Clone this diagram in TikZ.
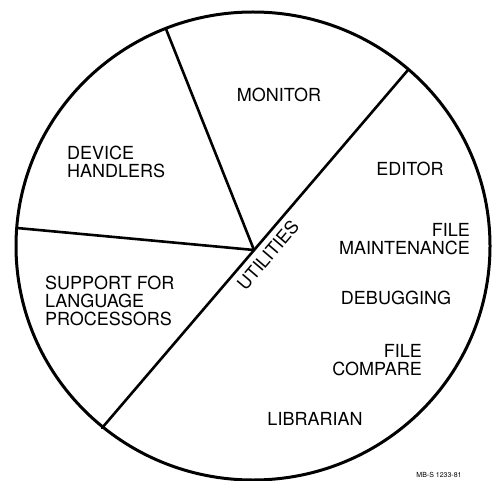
\documentclass[tikz,border=0pt]{standalone}
\usepackage{fontspec}
\setmainfont{TeX Gyre Heros}
\usetikzlibrary{positioning}

\begin{document}
\begin{tikzpicture}[
   x=1pt, y=-1pt,
   rim/.style={line width=3pt},
   split/.style={line width=2.6pt, line cap=round},
   lab/.style={font=\fontsize{18}{18}\selectfont, inner sep=0pt},
   tag/.style={font=\fontsize{7}{7}\selectfont, inner sep=0pt}
]
\useasboundingbox (0,0) rectangle (495,481);
\draw[rim] (253,246) ellipse [x radius=237, y radius=234];

\coordinate (hub) at (254,250);
\coordinate (rimtop) at (166,29);
\coordinate (rimleft) at (17,228);
\coordinate (rimne) at (408,70);
\coordinate (rimsw) at (102,428);

\draw[split] (hub) -- (rimtop);
\draw[split] (hub) -- (rimleft);
\draw[split] (rimsw) -- (rimne);

\node[lab] (monitor) at (279,95) {MONITOR};
\node[lab, anchor=west, align=left] (device) at (67,162) {DEVICE\\HANDLERS};
\node[lab, anchor=west, align=left] (support) at (45,301)
   {SUPPORT FOR\\LANGUAGE\\PROCESSORS};
\node[lab, rotate=49.5] (utilities) at (268,255) {UTILITIES};
\node[lab] (editor) at (410,169) {EDITOR};
\node[lab, anchor=east, align=right] (filemaint) at (470,239)
   {FILE\\MAINTENANCE};
\node[lab] (debug) at (396,298) {DEBUGGING};
\node[lab, anchor=east, align=right] (filecomp) at (422,360)
   {FILE\\COMPARE};
\node[lab] (librarian) at (315,419) {LIBRARIAN};
\node[tag, anchor=north] (stamp) at (439,472) {MB-S 1233-81};
\end{tikzpicture}
\end{document}
